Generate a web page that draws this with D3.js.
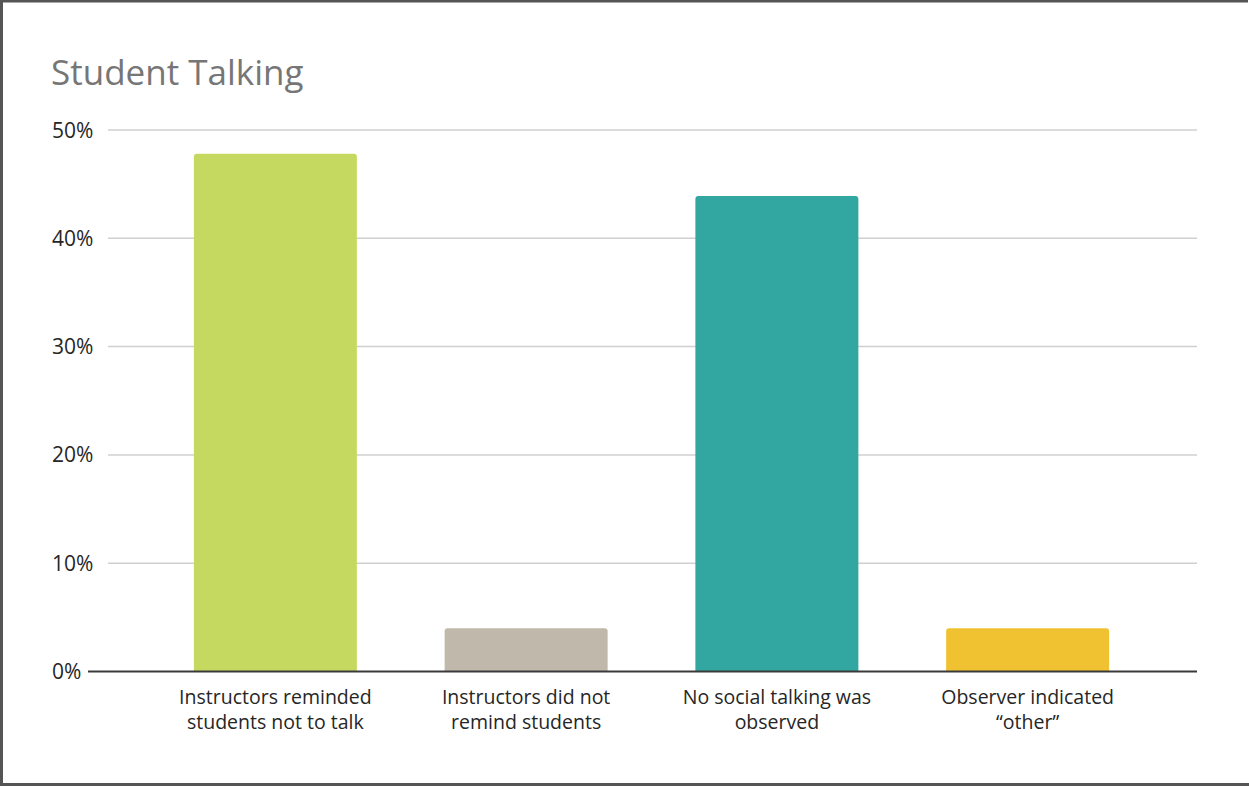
<!DOCTYPE html>
<html><head><meta charset="utf-8">
<script src="https://cdn.jsdelivr.net/npm/d3@7"></script>
<style>html,body{margin:0;padding:0;background:#fff;}svg{display:block;}</style>
</head><body>
<script>
const categories = [
  ["Instructors reminded", "students not to talk"],
  ["Instructors did not", "remind students"],
  ["No social talking was", "observed"],
  ["Observer indicated", "\u201cother\u201d"]
];
const values = [47.8, 4, 43.9, 4];
const colors = ["#c5d961", "#c0b8aa", "#32a6a0", "#f0c232"];
const yTicks = [0, 10, 20, 30, 40, 50];
const title = "Student Talking";

const W = 1249, H = 786;
const font = "'Open Sans', sans-serif";
const svg = d3.select("body").append("svg").attr("width", W).attr("height", H);

// frame
svg.append("rect").attr("x", 0).attr("y", 0).attr("width", W).attr("height", H).attr("fill", "#fff");
svg.append("line").attr("x1", 0).attr("x2", 1248).attr("y1", 1).attr("y2", 1).attr("stroke", "#555").attr("stroke-width", 3);
svg.append("line").attr("x1", 1.5).attr("x2", 1.5).attr("y1", 0).attr("y2", H).attr("stroke", "#555").attr("stroke-width", 3);
svg.append("line").attr("x1", 0).attr("x2", W).attr("y1", 784.5).attr("y2", 784.5).attr("stroke", "#555").attr("stroke-width", 3);

const idx = d3.range(values.length);
const x = d3.scaleBand().domain(idx).range([150, 1153]).paddingInner(0.35).paddingOuter(0.175);
const y = d3.scaleLinear().domain([0, 50]).range([671.5, 130]);

svg.append("text").attr("x", 51).attr("y", 85).attr("fill", "#767676")
  .attr("font-family", font).attr("font-size", 35).text(title);

// gridlines
svg.append("g").selectAll("line").data(yTicks.filter(d => d > 0)).join("line")
  .attr("x1", 108).attr("x2", 1197)
  .attr("y1", d => y(d)).attr("y2", d => y(d))
  .attr("stroke", "#d0d0d0").attr("stroke-width", 1.5);

// y tick labels
svg.append("g").selectAll("text").data(yTicks).join("text")
  .attr("x", 52).attr("y", d => y(d)).attr("dy", "0.36em")
  .attr("fill", "#262626").attr("font-family", font).attr("font-size", 21)
  .text(d => d + "%");

// bars with rounded top corners
const r = 3;
svg.append("g").selectAll("path").data(idx).join("path")
  .attr("fill", i => colors[i])
  .attr("d", i => {
    const x0 = x(i), w = x.bandwidth(), y0 = y(values[i]), yb = y(0);
    return `M${x0},${yb}V${y0 + r}Q${x0},${y0} ${x0 + r},${y0}H${x0 + w - r}Q${x0 + w},${y0} ${x0 + w},${y0 + r}V${yb}Z`;
  });

// baseline
svg.append("line").attr("x1", 88).attr("x2", 1197).attr("y1", y(0)).attr("y2", y(0))
  .attr("stroke", "#3a3a3a").attr("stroke-width", 2);

// category labels (one text element per line)
const lines = [];
idx.forEach(i => categories[i].forEach((s, k) => lines.push({i, k, s})));
svg.append("g").selectAll("text").data(lines).join("text")
  .attr("text-anchor", "middle").attr("fill", "#262626")
  .attr("font-family", font).attr("font-size", 19.5)
  .attr("x", d => x(d.i) + x.bandwidth() / 2)
  .attr("y", d => 704 + d.k * 25)
  .text(d => d.s);
</script>
</body></html>
